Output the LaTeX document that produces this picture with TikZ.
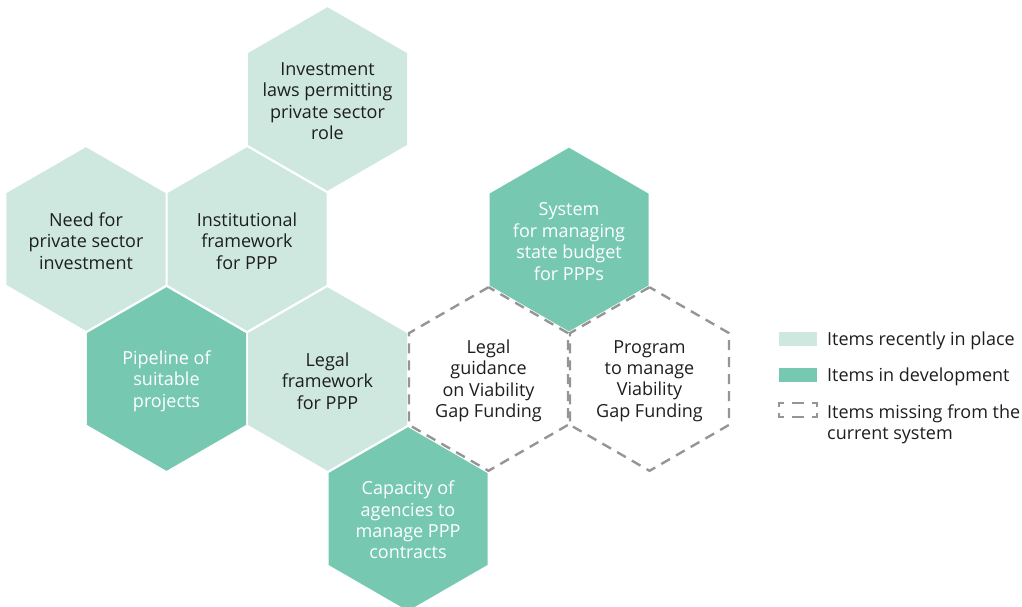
\documentclass[tikz,border=0pt]{standalone}
\usepackage{fontspec}
\setmainfont{Open Sans}
\usetikzlibrary{shapes.geometric}
\definecolor{lightg}{HTML}{CEE8E0}
\definecolor{darkg}{HTML}{76C9B0}
\definecolor{txt}{HTML}{1E1E1E}
\definecolor{dashg}{HTML}{959595}
\tikzset{
  hexshape/.style={regular polygon, regular polygon sides=6, shape border rotate=30,
    minimum size=183.6pt, inner sep=0pt, draw=none},
  lighthex/.style={hexshape, fill=lightg},
  darkhex/.style={hexshape, fill=darkg},
  missinghex/.style={hexshape, draw=dashg, line width=2.4pt, dash pattern=on 10pt off 7pt},
  hextext/.style={text=txt, align=center, inner sep=0pt,
    font=\fontsize{18}{21.4}\selectfont},
  whitetext/.style={hextext, text=white},
  legtext/.style={text=txt, anchor=west, align=left, inner sep=0pt,
    font=\fontsize{18}{21.4}\selectfont},
}
\begin{document}
\begin{tikzpicture}[x=1pt,y=-1pt]
\useasboundingbox (0,0) rectangle (1022,606);
\clip (0,0) rectangle (1022,606);
% hexagons
\node[lighthex] (inv) at (327.5,99) {};
\node[lighthex] (need) at (86,239) {};
\node[lighthex] (inst) at (247,239) {};
\node[darkhex] (sys) at (569,239.5) {};
\node[darkhex] (pipe) at (166.5,379) {};
\node[lighthex] (legal) at (327.5,379) {};
\node[darkhex] (cap) at (408,519) {};
\node[missinghex] (guid) at (488.5,379) {};
\node[missinghex] (prog) at (649.5,379) {};
% texts
\node[hextext] (invt) at (327.5,101) {Investment\\laws permitting\\private sector\\role};
\node[hextext] (needt) at (86,241) {Need for\\private sector\\investment};
\node[hextext] (instt) at (247,241) {Institutional\\framework\\for PPP};
\node[whitetext] (syst) at (569,241.5) {System\\for managing\\state budget\\for PPPs};
\node[whitetext] (pipet) at (166.5,381) {Pipeline of\\suitable\\projects};
\node[hextext] (legalt) at (327.5,381) {Legal\\framework\\for PPP};
\node[whitetext] (capt) at (408,520) {Capacity of\\agencies to\\manage PPP\\contracts};
\node[hextext] (guidt) at (488.5,381) {Legal\\guidance\\on Viability\\Gap Funding};
\node[hextext] (progt) at (649.5,381) {Program\\to manage\\Viability\\Gap Funding};
% legend
\fill[lightg] (779,332) rectangle (817,346);
\fill[darkg] (779,368) rectangle (817,382);
\draw[dashg, line width=2pt, dash pattern=on 9pt off 8pt on 12pt off 8pt on 9pt off 6pt, dash phase=49pt]
  (779,410) -- (779,403) -- (817,403) -- (817,417) -- (779,417) -- cycle;
\node[legtext] (l1) at (827,341) {Items recently in place};
\node[legtext] (l2) at (827,377) {Items in development};
\node[legtext] (l3) at (827,424) {Items missing from the\\current system};
\end{tikzpicture}
\end{document}
